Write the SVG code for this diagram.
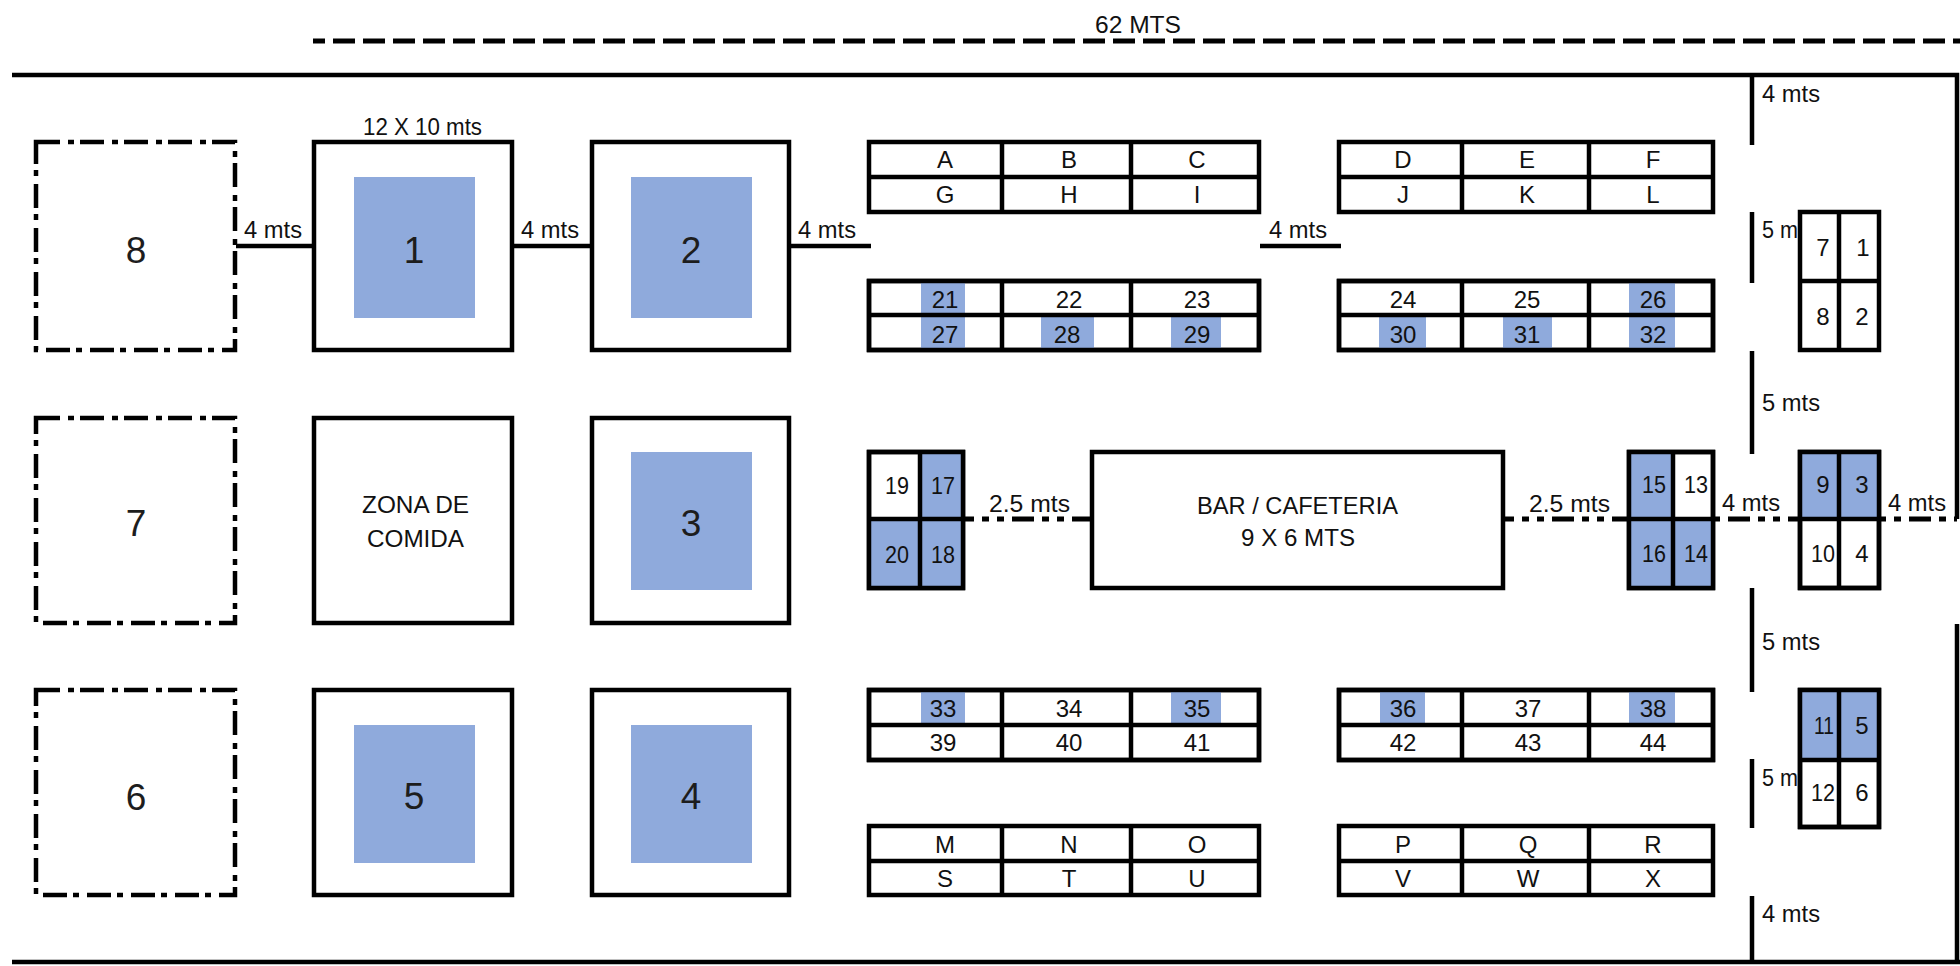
<svg xmlns="http://www.w3.org/2000/svg" width="1960" height="966" viewBox="0 0 1960 966">
<style>
text{font-family:"Liberation Sans",Arial,sans-serif;fill:#111}
.t{font-size:24px;text-anchor:middle}
.l{font-size:24px}
.n{font-size:37px;text-anchor:middle;fill:#1d1d1d}
.w{fill:#fff;stroke:#000;stroke-width:4.5}
.d{fill:#fff;stroke:#000;stroke-width:4.5;stroke-dasharray:24 8 6 6}
.g{stroke:#000;stroke-width:4.5;fill:none}
.f{fill:#8faadc}
.dd{stroke:#000;stroke-width:5;fill:none;stroke-dasharray:22 8 7 8 7 8}
</style>
<rect width="1960" height="966" fill="#fff"/>
<g id="walls">
<path class="g" d="M12 75H1957V519M1957 624V962M12 962H1960"/>
<path class="g" d="M1752 75V145M1752 212V283M1752 351V454M1752 588V692M1752 759V828M1752 896V962"/>
</g>
<g id="connectors">
<path class="g" d="M313 41H1960" style="stroke-width:5;stroke-dasharray:22 8;stroke-dashoffset:10"/>
<path class="g" d="M236 246H313M513 246H591M790 246H871M1260 246H1341"/>
<path class="dd" style="stroke-dashoffset:11" d="M963 519H1091"/>
<path class="dd" style="stroke-dashoffset:11" d="M1503 519H1628"/>
<path class="dd" style="stroke-dashoffset:45" d="M1713 519H1799"/>
<path class="dd" style="stroke-dashoffset:30" d="M1879 519H1957"/>
</g>
<g id="dimension-labels">
<text class="l" x="1095" y="33" textLength="86" lengthAdjust="spacingAndGlyphs">62 MTS</text>
<text class="l" x="363" y="135" textLength="119" lengthAdjust="spacingAndGlyphs">12 X 10 mts</text>
<text class="l" x="244" y="238" textLength="58" lengthAdjust="spacingAndGlyphs">4 mts</text>
<text class="l" x="521" y="238" textLength="58" lengthAdjust="spacingAndGlyphs">4 mts</text>
<text class="l" x="798" y="238" textLength="58" lengthAdjust="spacingAndGlyphs">4 mts</text>
<text class="l" x="1269" y="238" textLength="58" lengthAdjust="spacingAndGlyphs">4 mts</text>
<text class="l" x="1762" y="102" textLength="58" lengthAdjust="spacingAndGlyphs">4 mts</text>
<text class="l" x="1762" y="238" textLength="36" lengthAdjust="spacingAndGlyphs">5 m</text>
<text class="l" x="1762" y="411" textLength="58" lengthAdjust="spacingAndGlyphs">5 mts</text>
<text class="l" x="1762" y="650" textLength="58" lengthAdjust="spacingAndGlyphs">5 mts</text>
<text class="l" x="1762" y="786" textLength="36" lengthAdjust="spacingAndGlyphs">5 m</text>
<text class="l" x="1762" y="922" textLength="58" lengthAdjust="spacingAndGlyphs">4 mts</text>
<text class="l" x="989" y="512" textLength="81" lengthAdjust="spacingAndGlyphs">2.5 mts</text>
<text class="l" x="1529" y="512" textLength="81" lengthAdjust="spacingAndGlyphs">2.5 mts</text>
<text class="l" x="1722" y="511" textLength="58" lengthAdjust="spacingAndGlyphs">4 mts</text>
<text class="l" x="1888" y="511" textLength="58" lengthAdjust="spacingAndGlyphs">4 mts</text>
</g>
<g id="zone-8"><rect class="d" x="36" y="142" width="199" height="208"/><text class="n" x="136" y="263">8</text></g>
<g id="zone-7"><rect class="d" x="36" y="418" width="199" height="205"/><text class="n" x="136" y="536">7</text></g>
<g id="zone-6"><rect class="d" x="36" y="690" width="199" height="205"/><text class="n" x="136" y="810">6</text></g>
<g id="stand-1"><rect class="w" x="314" y="142" width="198" height="208"/><rect class="f" x="354" y="177" width="121" height="141"/><text class="n" x="414" y="263">1</text></g>
<g id="stand-2"><rect class="w" x="592" y="142" width="197" height="208"/><rect class="f" x="631" y="177" width="121" height="141"/><text class="n" x="691" y="263">2</text></g>
<g id="food-zone"><rect class="w" x="314" y="418" width="198" height="205"/><text class="l" x="362" y="513" textLength="107" lengthAdjust="spacingAndGlyphs">ZONA DE</text><text class="l" x="367" y="547" textLength="97" lengthAdjust="spacingAndGlyphs">COMIDA</text></g>
<g id="stand-3"><rect class="w" x="592" y="418" width="197" height="205"/><rect class="f" x="631" y="452" width="121" height="138"/><text class="n" x="691" y="536">3</text></g>
<g id="stand-5"><rect class="w" x="314" y="690" width="198" height="205"/><rect class="f" x="354" y="725" width="121" height="138"/><text class="n" x="414" y="809">5</text></g>
<g id="stand-4"><rect class="w" x="592" y="690" width="197" height="205"/><rect class="f" x="631" y="725" width="121" height="138"/><text class="n" x="691" y="809">4</text></g>
<g id="bar"><rect class="w" x="1092" y="452" width="411" height="136"/><text class="l" x="1197" y="514" textLength="201" lengthAdjust="spacingAndGlyphs">BAR / CAFETERIA</text><text class="l" x="1241" y="546" textLength="114" lengthAdjust="spacingAndGlyphs">9 X 6 MTS</text></g>
<g id="table-a-i">
<rect class="w" x="869" y="142" width="390" height="70"/><path class="g" d="M869 177H1259M1002 142V212M1131 142V212"/>
<text class="t" x="945" y="168">A</text><text class="t" x="1069" y="168">B</text><text class="t" x="1197" y="168">C</text>
<text class="t" x="945" y="203">G</text><text class="t" x="1069" y="203">H</text><text class="t" x="1197" y="203">I</text>
</g>
<g id="table-d-l">
<rect class="w" x="1339" y="142" width="374" height="70"/><path class="g" d="M1339 177H1713M1462 142V212M1589 142V212"/>
<text class="t" x="1403" y="168">D</text><text class="t" x="1527" y="168">E</text><text class="t" x="1653" y="168">F</text>
<text class="t" x="1403" y="203">J</text><text class="t" x="1527" y="203">K</text><text class="t" x="1653" y="203">L</text>
</g>
<g id="table-21-29">
<rect class="w" x="869" y="281" width="390" height="69"/>
<rect class="f" x="921" y="281" width="44" height="69"/><rect class="f" x="1041" y="315" width="53" height="35"/><rect class="f" x="1171" y="315" width="50" height="35"/>
<path class="g" d="M869 281H1259V350H869ZM869 315H1259M1002 281V350M1131 281V350"/>
<text class="t" x="945" y="308">21</text><text class="t" x="1069" y="308">22</text><text class="t" x="1197" y="308">23</text>
<text class="t" x="945" y="343">27</text><text class="t" x="1067" y="343">28</text><text class="t" x="1197" y="343">29</text>
</g>
<g id="table-24-32">
<rect class="w" x="1339" y="281" width="374" height="69"/>
<rect class="f" x="1629" y="281" width="46" height="69"/><rect class="f" x="1379" y="315" width="47" height="35"/><rect class="f" x="1503" y="315" width="49" height="35"/>
<path class="g" d="M1339 281H1713V350H1339ZM1339 315H1713M1462 281V350M1589 281V350"/>
<text class="t" x="1403" y="308">24</text><text class="t" x="1527" y="308">25</text><text class="t" x="1653" y="308">26</text>
<text class="t" x="1403" y="343">30</text><text class="t" x="1527" y="343">31</text><text class="t" x="1653" y="343">32</text>
</g>
<g id="table-33-41">
<rect class="w" x="869" y="690" width="390" height="70"/>
<rect class="f" x="921" y="690" width="44" height="35"/><rect class="f" x="1171" y="690" width="50" height="35"/>
<path class="g" d="M869 690H1259V760H869ZM869 725H1259M1002 690V760M1131 690V760"/>
<text class="t" x="943" y="717">33</text><text class="t" x="1069" y="717">34</text><text class="t" x="1197" y="717">35</text>
<text class="t" x="943" y="751">39</text><text class="t" x="1069" y="751">40</text><text class="t" x="1197" y="751">41</text>
</g>
<g id="table-36-44">
<rect class="w" x="1339" y="690" width="374" height="70"/>
<rect class="f" x="1380" y="690" width="45" height="35"/><rect class="f" x="1629" y="690" width="46" height="35"/>
<path class="g" d="M1339 690H1713V760H1339ZM1339 725H1713M1462 690V760M1589 690V760"/>
<text class="t" x="1403" y="717">36</text><text class="t" x="1528" y="717">37</text><text class="t" x="1653" y="717">38</text>
<text class="t" x="1403" y="751">42</text><text class="t" x="1528" y="751">43</text><text class="t" x="1653" y="751">44</text>
</g>
<g id="table-m-u">
<rect class="w" x="869" y="826" width="390" height="69"/><path class="g" d="M869 861H1259M1002 826V895M1131 826V895"/>
<text class="t" x="945" y="853">M</text><text class="t" x="1069" y="853">N</text><text class="t" x="1197" y="853">O</text>
<text class="t" x="945" y="887">S</text><text class="t" x="1069" y="887">T</text><text class="t" x="1197" y="887">U</text>
</g>
<g id="table-p-x">
<rect class="w" x="1339" y="826" width="374" height="69"/><path class="g" d="M1339 861H1713M1462 826V895M1589 826V895"/>
<text class="t" x="1403" y="853">P</text><text class="t" x="1528" y="853">Q</text><text class="t" x="1653" y="853">R</text>
<text class="t" x="1403" y="887">V</text><text class="t" x="1528" y="887">W</text><text class="t" x="1653" y="887">X</text>
</g>
<g id="block-19-18">
<rect class="w" x="869" y="452" width="94" height="136"/>
<rect class="f" x="920" y="452" width="43" height="67"/><rect class="f" x="869" y="519" width="94" height="69"/>
<path class="g" d="M869 452H963V588H869ZM869 519H963M920 452V588"/>
<text class="t" x="897" y="494" textLength="24" lengthAdjust="spacingAndGlyphs">19</text><text class="t" x="943" y="494" textLength="24" lengthAdjust="spacingAndGlyphs">17</text><text class="t" x="897" y="563" textLength="24" lengthAdjust="spacingAndGlyphs">20</text><text class="t" x="943" y="563" textLength="24" lengthAdjust="spacingAndGlyphs">18</text>
</g>
<g id="block-15-14">
<rect class="w" x="1629" y="452" width="84" height="136"/>
<rect class="f" x="1629" y="452" width="44" height="136"/><rect class="f" x="1673" y="519" width="40" height="69"/>
<path class="g" d="M1629 452H1713V588H1629ZM1629 519H1713M1673 452V588"/>
<text class="t" x="1654" y="493" textLength="24" lengthAdjust="spacingAndGlyphs">15</text><text class="t" x="1696" y="493" textLength="24" lengthAdjust="spacingAndGlyphs">13</text><text class="t" x="1654" y="562" textLength="24" lengthAdjust="spacingAndGlyphs">16</text><text class="t" x="1696" y="562" textLength="24" lengthAdjust="spacingAndGlyphs">14</text>
</g>
<g id="block-7-2">
<rect class="w" x="1800" y="212" width="79" height="138"/><path class="g" d="M1800 281H1879M1839 212V350"/>
<text class="t" x="1823" y="256">7</text><text class="t" x="1863" y="256">1</text><text class="t" x="1823" y="325">8</text><text class="t" x="1862" y="325">2</text>
</g>
<g id="block-9-4">
<rect class="w" x="1800" y="452" width="79" height="136"/>
<rect class="f" x="1800" y="452" width="79" height="67"/>
<path class="g" d="M1800 452H1879V588H1800ZM1800 519H1879M1839 452V588"/>
<text class="t" x="1823" y="493">9</text><text class="t" x="1862" y="493">3</text><text class="t" x="1823" y="562" textLength="24" lengthAdjust="spacingAndGlyphs">10</text><text class="t" x="1862" y="562">4</text>
</g>
<g id="block-11-6">
<rect class="w" x="1800" y="690" width="79" height="137"/>
<rect class="f" x="1800" y="690" width="79" height="70"/>
<path class="g" d="M1800 690H1879V827H1800ZM1800 760H1879M1839 690V827"/>
<text class="t" x="1824" y="734" textLength="20" lengthAdjust="spacingAndGlyphs">11</text><text class="t" x="1862" y="734">5</text><text class="t" x="1823" y="801" textLength="24" lengthAdjust="spacingAndGlyphs">12</text><text class="t" x="1862" y="801">6</text>
</g>
</svg>
